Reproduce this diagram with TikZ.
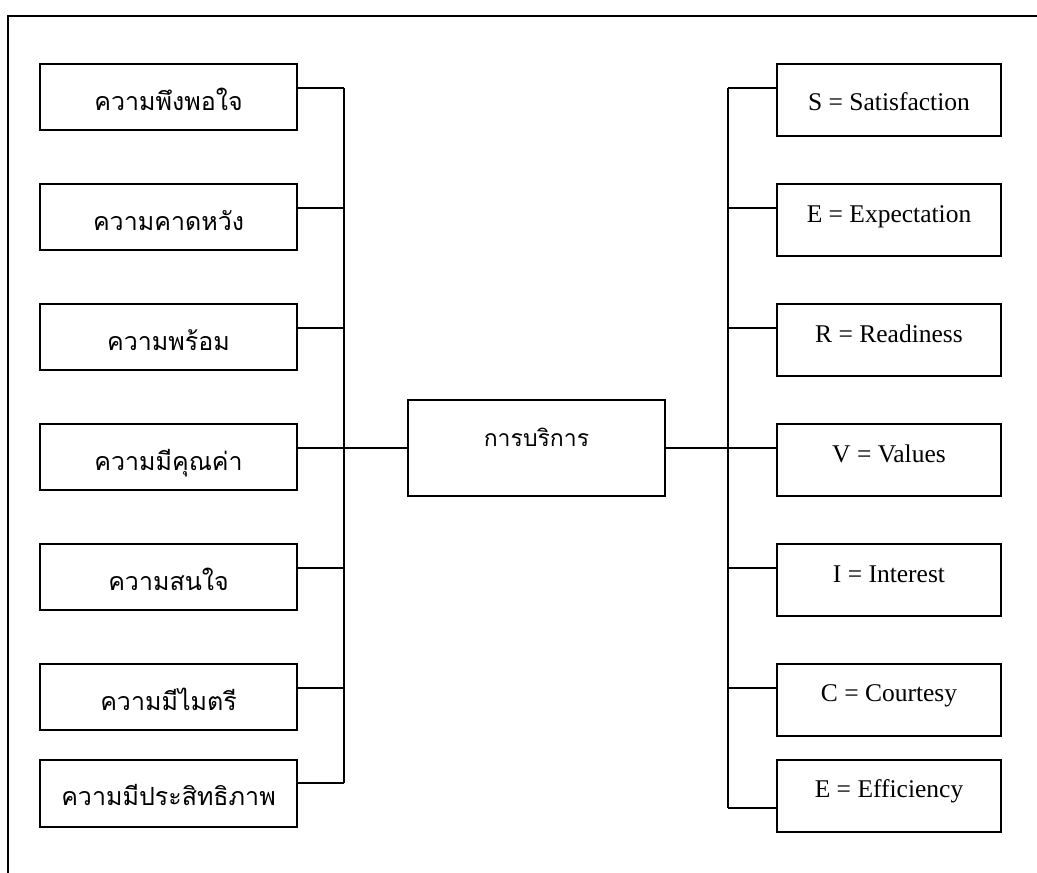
\documentclass[tikz,border=0pt]{standalone}
\usepackage{fontspec}
\setmainfont{Liberation Serif}
\newfontfamily\thaifont[Script=Thai]{Loma}
\begin{document}
\begin{tikzpicture}[x=1pt,y=-1pt,
  box/.style={draw,line width=1.4pt,rectangle,inner sep=0pt,outer sep=0pt,anchor=north west},
  lbox/.style={box,minimum width=257pt,minimum height=66pt},
  rbox/.style={box,minimum width=224pt,minimum height=72pt},
  thtext/.style={font=\thaifont\fontsize{25}{30}\selectfont,anchor=base,inner sep=0pt},
  entext/.style={font=\fontsize{25.5}{30}\selectfont,anchor=base,inner sep=0pt},
  link/.style={line width=1.1pt}]
\useasboundingbox (0,0) rectangle (1037,873);
% frame
\coordinate (fTL) at (8,16);
\coordinate (fTR) at (1040,16);
\coordinate (fBL) at (8,876);
\draw[line width=1.6pt] (fTR) -- (fTL) -- (fBL);
% left boxes
\node[lbox] (l1) at (40,64) {};
\node[lbox] (l2) at (40,184) {};
\node[lbox] (l3) at (40,304) {};
\node[lbox] (l4) at (40,424) {};
\node[lbox] (l5) at (40,544) {};
\node[lbox] (l6) at (40,664) {};
\node[lbox,minimum height=67pt] (l7) at (40,760) {};
\node[thtext] (t1) at ([yshift=-46pt]l1.north) {ความพึงพอใจ};
\node[thtext] (t2) at ([yshift=-46pt]l2.north) {ความคาดหวัง};
\node[thtext] (t3) at ([yshift=-46pt]l3.north) {ความพร้อม};
\node[thtext] (t4) at ([yshift=-46pt]l4.north) {ความมีคุณค่า};
\node[thtext] (t5) at ([yshift=-46pt]l5.north) {ความสนใจ};
\node[thtext] (t6) at ([yshift=-46pt]l6.north) {ความมีไมตรี};
\node[thtext] (t7) at ([yshift=-45pt]l7.north) {ความมีประสิทธิภาพ};
% right boxes
\node[rbox] (r1) at (777,64) {};
\node[rbox] (r2) at (777,184) {};
\node[rbox] (r3) at (777,304) {};
\node[rbox] (r4) at (777,424) {};
\node[rbox] (r5) at (777,544) {};
\node[rbox] (r6) at (777,664) {};
\node[rbox] (r7) at (777,760) {};
\node[entext] (s1) at ([yshift=-46pt]r1.north) {S = Satisfaction};
\node[entext] (s2) at ([yshift=-38pt]r2.north) {E = Expectation};
\node[entext] (s3) at ([yshift=-38pt]r3.north) {R = Readiness};
\node[entext] (s4) at ([yshift=-38pt]r4.north) {V = Values};
\node[entext] (s5) at ([yshift=-38pt]r5.north) {I = Interest};
\node[entext] (s6) at ([yshift=-37pt]r6.north) {C = Courtesy};
\node[entext] (s7) at ([yshift=-37pt]r7.north) {E = Efficiency};
% center
\node[box,minimum width=257pt,minimum height=96pt] (c) at (408,400) {};
\node[thtext,font=\thaifont\fontsize{23}{28}\selectfont] (ct) at ([yshift=-46pt]c.north) {การบริการ};
% buses
\coordinate (lbus) at (344,0);
\coordinate (rbus) at (728,0);
\foreach \i in {1,...,6} {
  \coordinate (la\i) at ([yshift=-24pt]l\i.north east);
  \coordinate (ra\i) at ([yshift=-24pt]r\i.north west);
  \draw[link] (la\i) -- (la\i -| lbus);
  \draw[link] (ra\i) -- (ra\i -| rbus);
}
\coordinate (la7) at ([yshift=-23pt]l7.north east);
\coordinate (ra7) at ([yshift=-48pt]r7.north west);
\draw[link] (la7) -- (la7 -| lbus);
\draw[link] (ra7) -- (ra7 -| rbus);
\draw[link] (la1 -| lbus) -- (la7 -| lbus);
\draw[link] (ra1 -| rbus) -- (ra7 -| rbus);
\draw[link] (c.west) -- (c.west -| lbus);
\draw[link] (c.east) -- (c.east -| rbus);
\end{tikzpicture}
\end{document}
